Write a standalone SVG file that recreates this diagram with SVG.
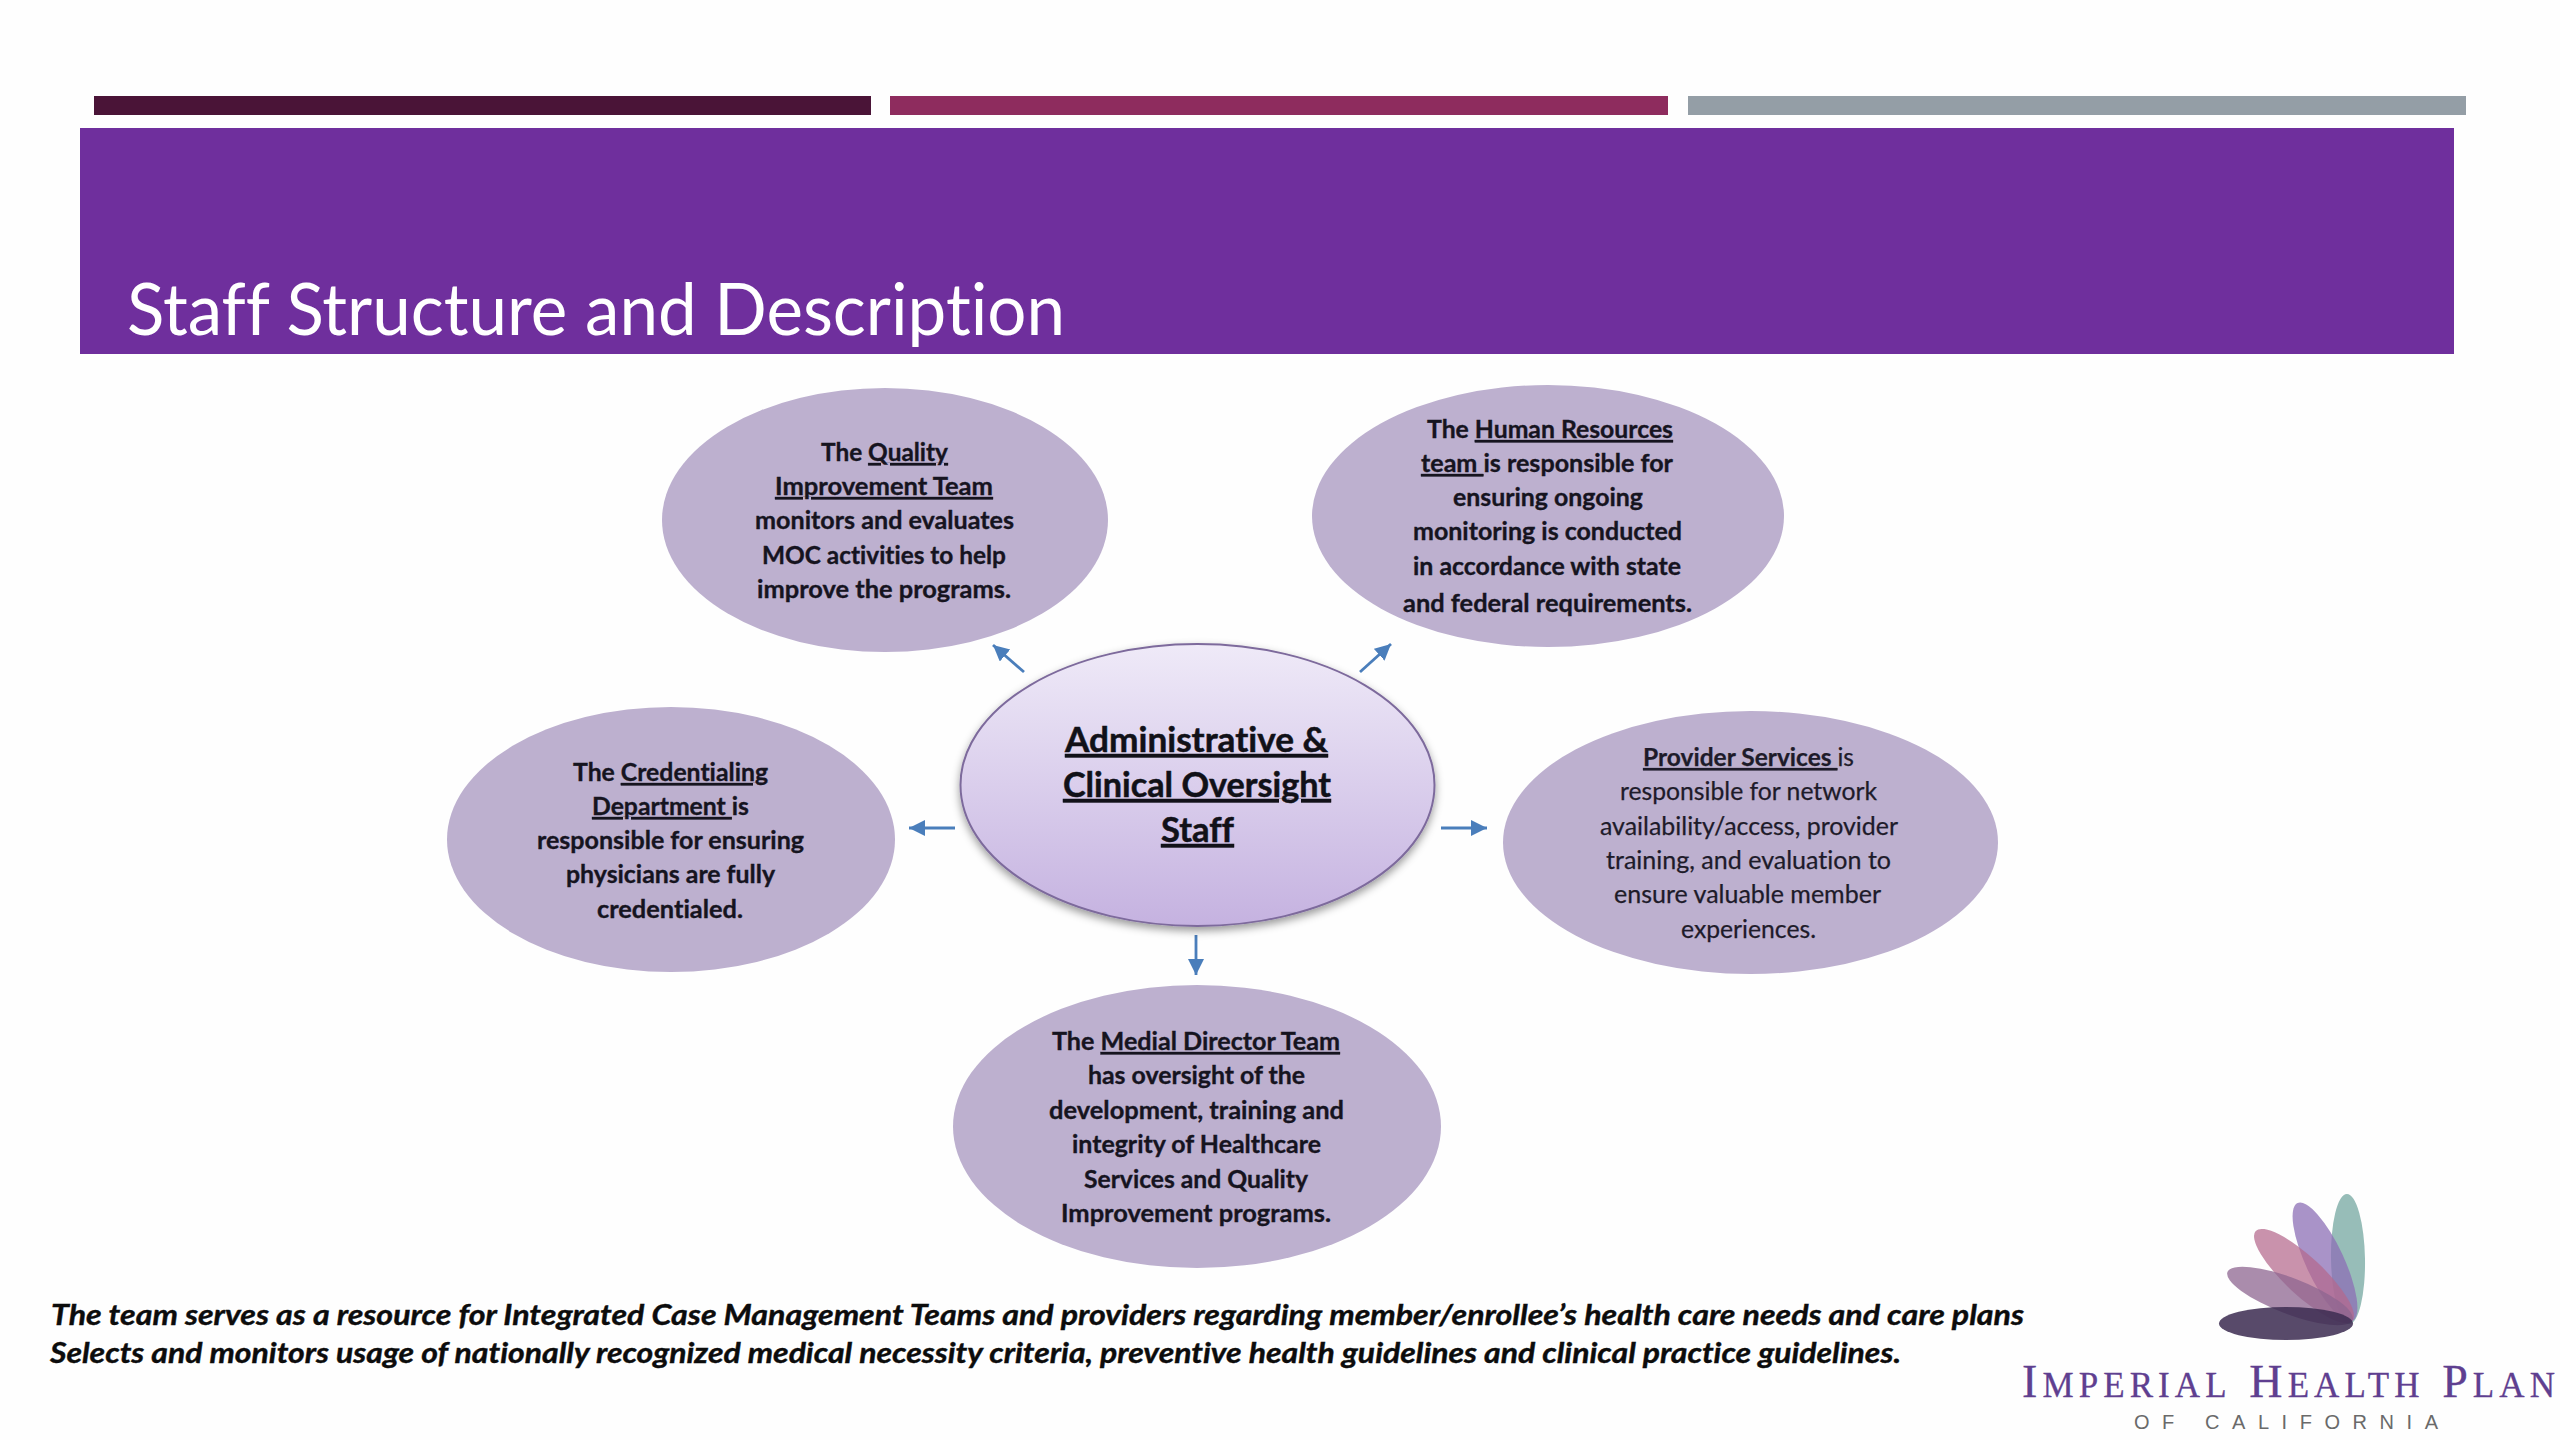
<svg xmlns="http://www.w3.org/2000/svg" width="2560" height="1440" viewBox="0 0 2560 1440">
<style>
text{font-variant-ligatures:none}
.oval{fill:#bdb0cf}
.b{font-family:"Lato","Carlito","Liberation Sans",sans-serif;font-weight:700;font-size:24.5px;fill:#16141f;stroke:#16141f;stroke-width:.35px}
.r{font-family:"Lato","Carlito","Liberation Sans",sans-serif;font-weight:400;font-size:24.5px;fill:#1e1b2a;stroke:#1e1b2a;stroke-width:.25px}
.c{font-family:"Lato","Carlito","Liberation Sans",sans-serif;font-weight:700;font-size:34px;fill:#111118;stroke:#111118;stroke-width:.5px;text-decoration:underline}
.u{text-decoration:underline}
.f{font-family:"Lato","Carlito","Liberation Sans",sans-serif;font-weight:700;font-style:italic;font-size:29px;fill:#0c0c0c;stroke:#0c0c0c;stroke-width:.4px}
.w{font-weight:700}
.conn{stroke:#4a7ebb;stroke-width:2.8;fill:none;marker-end:url(#arrow)}
</style>
<defs>
<linearGradient id="cg" x1="0" y1="0" x2="0" y2="1"><stop offset="0" stop-color="#efeaf8"/><stop offset="1" stop-color="#c5b2e0"/></linearGradient>
<filter id="sh" x="-10%" y="-10%" width="120%" height="125%"><feDropShadow dx="0" dy="4" stdDeviation="4" flood-color="#000" flood-opacity="0.4"/></filter>
<marker id="arrow" markerUnits="userSpaceOnUse" markerWidth="18" markerHeight="18" refX="16" refY="8" orient="auto"><path d="M0,0 L16,8 L0,16 Z" fill="#4a7ebb"/></marker>
</defs>
<rect width="2560" height="1440" fill="#fefefe"/>
<g id="header">
<rect x="94" y="96" width="777" height="19" fill="#4a1437"/>
<rect x="890" y="96" width="778" height="19" fill="#8e2c5e"/>
<rect x="1688" y="96" width="778" height="19" fill="#949ea6"/>
<rect x="80" y="128" width="2374" height="226" fill="#6f2f9d"/>
<text x="127" y="335" font-family="Lato,'Liberation Sans',sans-serif" font-size="72" fill="#ffffff" textLength="938" lengthAdjust="spacingAndGlyphs">Staff Structure and Description</text>
</g>
<g id="connectors">
<line class="conn" x1="1024" y1="672" x2="993" y2="645"/>
<line class="conn" x1="1360" y1="672" x2="1391" y2="644"/>
<line class="conn" x1="955" y1="828" x2="909" y2="828"/>
<line class="conn" x1="1441" y1="828" x2="1487" y2="828"/>
<line class="conn" x1="1196" y1="935" x2="1196" y2="975"/>
</g>
<g id="node-center">
<ellipse cx="1197.5" cy="785" rx="237" ry="141" fill="url(#cg)" stroke="#7d6a9c" stroke-width="2" filter="url(#sh)"/>
<text class="c" x="1065" y="752" textLength="263" lengthAdjust="spacingAndGlyphs">Administrative &amp;</text>
<text class="c" x="1063" y="797" textLength="268" lengthAdjust="spacingAndGlyphs">Clinical Oversight</text>
<text class="c" x="1161" y="842" textLength="73" lengthAdjust="spacingAndGlyphs">Staff</text>
</g>
<g id="node-quality">
<ellipse class="oval" cx="885" cy="520" rx="223" ry="132"/>
<text class="b" x="821" y="461" textLength="127" lengthAdjust="spacingAndGlyphs">The <tspan class="u">Quality</tspan></text>
<text class="b u" x="775" y="495" textLength="218" lengthAdjust="spacingAndGlyphs">Improvement Team</text>
<text class="b" x="755" y="529" textLength="259" lengthAdjust="spacingAndGlyphs">monitors and evaluates</text>
<text class="b" x="762" y="564" textLength="244" lengthAdjust="spacingAndGlyphs">MOC activities to help</text>
<text class="b" x="757" y="598" textLength="254" lengthAdjust="spacingAndGlyphs">improve the programs.</text>
</g>
<g id="node-hr">
<ellipse class="oval" cx="1548" cy="516" rx="236" ry="131"/>
<text class="b" x="1427" y="438" textLength="246" lengthAdjust="spacingAndGlyphs">The <tspan class="u">Human Resources</tspan></text>
<text class="b" x="1421" y="472" textLength="252" lengthAdjust="spacingAndGlyphs"><tspan class="u">team </tspan>is responsible for</text>
<text class="b" x="1453" y="506" textLength="190" lengthAdjust="spacingAndGlyphs">ensuring ongoing</text>
<text class="b" x="1413" y="540" textLength="269" lengthAdjust="spacingAndGlyphs">monitoring is conducted</text>
<text class="b" x="1413" y="575" textLength="268" lengthAdjust="spacingAndGlyphs">in accordance with state</text>
<text class="b" x="1403" y="612" textLength="289" lengthAdjust="spacingAndGlyphs">and federal requirements.</text>
</g>
<g id="node-credentialing">
<ellipse class="oval" cx="671" cy="839.5" rx="224" ry="132.5"/>
<text class="b" x="573" y="781" textLength="195" lengthAdjust="spacingAndGlyphs">The <tspan class="u">Credentialing</tspan></text>
<text class="b" x="592" y="815" textLength="157" lengthAdjust="spacingAndGlyphs"><tspan class="u">Department </tspan>is</text>
<text class="b" x="537" y="849" textLength="267" lengthAdjust="spacingAndGlyphs">responsible for ensuring</text>
<text class="b" x="566" y="883" textLength="209" lengthAdjust="spacingAndGlyphs">physicians are fully</text>
<text class="b" x="597" y="918" textLength="146" lengthAdjust="spacingAndGlyphs">credentialed.</text>
</g>
<g id="node-provider">
<ellipse class="oval" cx="1750.5" cy="842.5" rx="247.5" ry="131.5"/>
<text class="r" x="1643" y="766" textLength="211" lengthAdjust="spacingAndGlyphs"><tspan class="u w">Provider Services </tspan>is</text>
<text class="r" x="1620" y="800" textLength="257" lengthAdjust="spacingAndGlyphs">responsible for network</text>
<text class="r" x="1600" y="835" textLength="298" lengthAdjust="spacingAndGlyphs">availability/access, provider</text>
<text class="r" x="1606" y="869" textLength="285" lengthAdjust="spacingAndGlyphs">training, and evaluation to</text>
<text class="r" x="1614" y="903" textLength="267" lengthAdjust="spacingAndGlyphs">ensure valuable member</text>
<text class="r" x="1681" y="938" textLength="135" lengthAdjust="spacingAndGlyphs">experiences.</text>
</g>
<g id="node-medical">
<ellipse class="oval" cx="1197" cy="1126.5" rx="244" ry="141.5"/>
<text class="b" x="1052" y="1050" textLength="288" lengthAdjust="spacingAndGlyphs">The <tspan class="u">Medial Director Team</tspan></text>
<text class="b" x="1088" y="1084" textLength="217" lengthAdjust="spacingAndGlyphs">has oversight of the</text>
<text class="b" x="1049" y="1119" textLength="295" lengthAdjust="spacingAndGlyphs">development, training and</text>
<text class="b" x="1072" y="1153" textLength="249" lengthAdjust="spacingAndGlyphs">integrity of Healthcare</text>
<text class="b" x="1084" y="1188" textLength="224" lengthAdjust="spacingAndGlyphs">Services and Quality</text>
<text class="b" x="1061" y="1222" textLength="270" lengthAdjust="spacingAndGlyphs">Improvement programs.</text>
</g>
<g id="footer">
<text class="f" x="51" y="1325" textLength="1973" lengthAdjust="spacingAndGlyphs">The team serves as a resource for Integrated Case Management Teams and providers regarding member/enrollee’s health care needs and care plans</text>
<text class="f" x="50" y="1363" textLength="1851" lengthAdjust="spacingAndGlyphs">Selects and monitors usage of nationally recognized medical necessity criteria, preventive health guidelines and clinical practice guidelines.</text>
</g>
<g id="logo">
<ellipse cx="2348" cy="1259" rx="65" ry="17" transform="rotate(89 2348 1259)" fill="#97bdb8"/>
<ellipse cx="2325" cy="1262" rx="65" ry="19" transform="rotate(65 2325 1262)" fill="#8c6fb5" fill-opacity="0.75"/>
<ellipse cx="2304" cy="1276" rx="66" ry="19" transform="rotate(43 2304 1276)" fill="#b4688c" fill-opacity="0.72"/>
<ellipse cx="2290" cy="1296" rx="67" ry="18" transform="rotate(21 2290 1296)" fill="#8d6690" fill-opacity="0.75"/>
<ellipse cx="2286" cy="1323.5" rx="67" ry="16.5" fill="#3c2c52" fill-opacity="0.86"/>
<text x="2022" y="1397" font-family="'Liberation Serif',serif" font-variant="small-caps" fill="#5f3f90" stroke="#5f3f90" stroke-width=".3" textLength="533" font-size="50"><tspan font-size="46">I</tspan>mperial <tspan font-size="46">H</tspan>ealth <tspan font-size="46">P</tspan>lan</text>
<text x="2134" y="1429" font-family="'Liberation Sans',sans-serif" font-size="20" fill="#6a6a6a" textLength="304">OF CALIFORNIA</text>
</g>
</svg>
